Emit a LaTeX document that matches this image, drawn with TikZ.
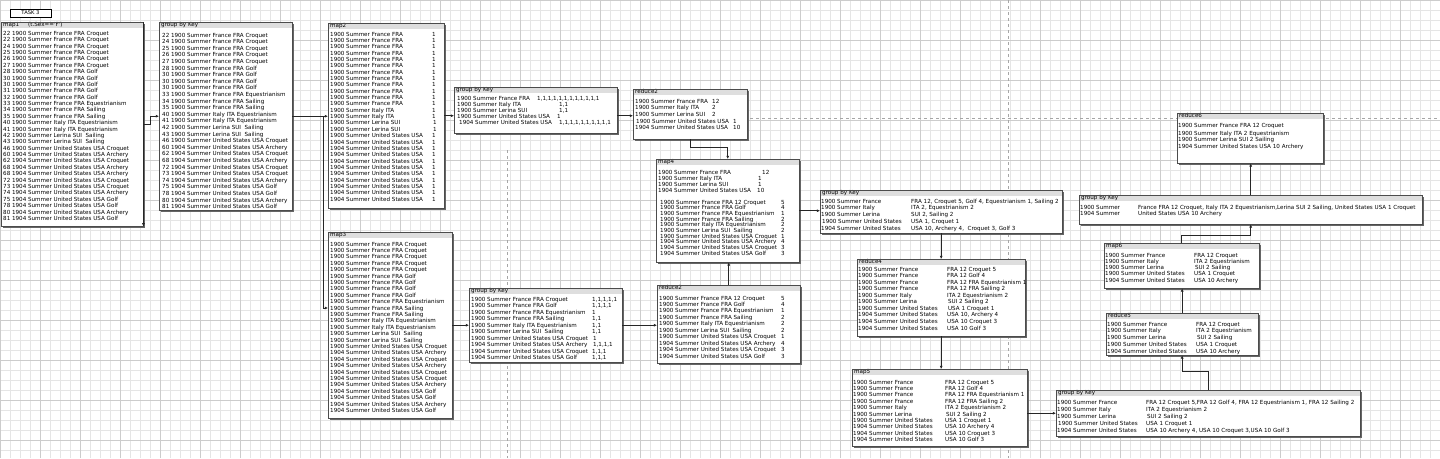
\documentclass[tikz,border=0pt]{standalone}
\usepackage{fontspec}
\newfontfamily\df{DejaVu Sans}
\usetikzlibrary{arrows.meta,shadows,calc}
\newlength\cw
\newcommand\setcw[1]{\global\cw=#1\relax}
\newcommand\Cl[3][\cw]{\makebox[#1][l]{#2}#3}
\newcommand\mrbox[6]{%
  \pgfmathsetmacro\boxw{#4-#2}\pgfmathsetmacro\boxh{#5-#3}\pgfmathsetmacro\hdrw{#4-#2-4}%
  \node[boxbg, minimum width=\boxw pt, minimum height=\boxh pt] (#1) at (#2,#3) {};
  \node[hdr, text width=\hdrw pt] (#1h) at (#1.north west) {#6};
  \draw[boxline] (#1.north west) rectangle (#1.south east);
}
\newcommand\mrbody[5]{\node[body, font={\df\fontsize{5.6}{#4}\selectfont\lineskiplimit=-5pt}] (#1t) at (#2,#3) {#5};}
\begin{document}
\begin{tikzpicture}[x=1pt,y=-1pt,
  boxbg/.style={fill=white, anchor=north west, inner sep=0pt, drop shadow={shadow xshift=1.3pt, shadow yshift=-1.3pt, fill=black!60, opacity=1}},
  boxline/.style={draw=black!70, line width=0.5pt},
  hdr/.style={anchor=north west, fill=black!13, inner xsep=2pt, inner ysep=0pt, text height=4.4pt, text depth=1.6pt, font=\df\fontsize{5.6}{6}\selectfont, align=left},
  body/.style={anchor=north west, inner sep=0pt, align=left},
  arr/.style={draw=black!85, line width=0.8pt, -{Latex[length=3.2pt,width=3pt]}},
  pgline/.style={draw=black!35, dashed, dash pattern=on 3pt off 3pt, line width=0.5pt}]
\useasboundingbox (0,0) rectangle (1440,458);
\fill[white] (0,0) rectangle (1440,458);
\draw[black!10, line width=0.3pt, xstep=10pt, ystep=10pt] (0,0) grid (1440,458);
\draw[black!20, line width=0.3pt, xstep=40pt, ystep=40pt] (0,0) grid (1440,458);
\draw[pgline] (720,118) -- (1440,118);
\draw[pgline] (1008,0) -- (1008,458);
\draw[pgline] (507,150) -- (507,458);

\node[draw=black, line width=0.8pt, fill=white, minimum width=41pt, minimum height=8pt, inner sep=0pt, font=\df\fontsize{5.2}{6}\selectfont] (task) at (30.5,13) {TASK 3};

% ---------- map1
\mrbox{map1}{1}{22}{143}{226}{map1\hspace{9pt}(t.Sex=='F')}
\mrbody{map1}{3}{31}{6.38}{%
22 1900 Summer France FRA Croquet\\
22 1900 Summer France FRA Croquet\\
24 1900 Summer France FRA Croquet\\
25 1900 Summer France FRA Croquet\\
26 1900 Summer France FRA Croquet\\
27 1900 Summer France FRA Croquet\\
28 1900 Summer France FRA Golf\\
30 1900 Summer France FRA Golf\\
30 1900 Summer France FRA Golf\\
31 1900 Summer France FRA Golf\\
32 1900 Summer France FRA Golf\\
33 1900 Summer France FRA Equestrianism\\
34 1900 Summer France FRA Sailing\\
35 1900 Summer France FRA Sailing\\
40 1900 Summer Italy ITA Equestrianism\\
41 1900 Summer Italy ITA Equestrianism\\
42 1900 Summer Lerina SUI\ \ Sailing\\
43 1900 Summer Lerina SUI\ \ Sailing\\
46 1900 Summer United States USA Croquet\\
60 1904 Summer United States USA Archery\\
62 1904 Summer United States USA Croquet\\
68 1904 Summer United States USA Archery\\
68 1904 Summer United States USA Archery\\
72 1904 Summer United States USA Croquet\\
73 1904 Summer United States USA Croquet\\
74 1904 Summer United States USA Archery\\
75 1904 Summer United States USA Golf\\
78 1904 Summer United States USA Golf\\
80 1904 Summer United States USA Archery\\
81 1904 Summer United States USA Golf}

% ---------- group by key 1
\mrbox{gbk1}{159}{22}{292}{210}{group by Key}
\mrbody{gbk1}{162}{32.7}{6.6}{%
22 1900 Summer France FRA Croquet\\
24 1900 Summer France FRA Croquet\\
25 1900 Summer France FRA Croquet\\
26 1900 Summer France FRA Croquet\\
27 1900 Summer France FRA Croquet\\
28 1900 Summer France FRA Golf\\
30 1900 Summer France FRA Golf\\
30 1900 Summer France FRA Golf\\
30 1900 Summer France FRA Golf\\
33 1900 Summer France FRA Equestrianism\\
34 1900 Summer France FRA Sailing\\
35 1900 Summer France FRA Sailing\\
40 1900 Summer Italy ITA Equestrianism\\
41 1900 Summer Italy ITA Equestrianism\\
42 1900 Summer Lerina SUI\ \ Sailing\\
43 1900 Summer Lerina SUI\ \ Sailing\\
46 1900 Summer United States USA Croquet\\
60 1904 Summer United States USA Archery\\
62 1904 Summer United States USA Croquet\\
68 1904 Summer United States USA Archery\\
72 1904 Summer United States USA Croquet\\
73 1904 Summer United States USA Croquet\\
74 1904 Summer United States USA Archery\\
75 1904 Summer United States USA Golf\\
78 1904 Summer United States USA Golf\\
80 1904 Summer United States USA Archery\\
81 1904 Summer United States USA Golf}

% ---------- map2
\mrbox{map2}{328}{23}{444}{208}{map2}
\mrbody{map2}{330}{31.7}{6.35}{\setcw{102pt}%
\Cl{1900 Summer France FRA}{1}\\
\Cl{1900 Summer France FRA}{1}\\
\Cl{1900 Summer France FRA}{1}\\
\Cl{1900 Summer France FRA}{1}\\
\Cl{1900 Summer France FRA}{1}\\
\Cl{1900 Summer France FRA}{1}\\
\Cl{1900 Summer France FRA}{1}\\
\Cl{1900 Summer France FRA}{1}\\
\Cl{1900 Summer France FRA}{1}\\
\Cl{1900 Summer France FRA}{1}\\
\Cl{1900 Summer France FRA}{1}\\
\Cl{1900 Summer France FRA}{1}\\
\Cl{1900 Summer Italy ITA}{1}\\
\Cl{1900 Summer Italy ITA}{1}\\
\Cl[103pt]{1900 Summer Lerina SUI}{1}\\
\Cl[103pt]{1900 Summer Lerina SUI}{1}\\
\Cl{1900 Summer United States USA}{1}\\
\Cl{1904 Summer United States USA}{1}\\
\Cl{1904 Summer United States USA}{1}\\
\Cl{1904 Summer United States USA}{1}\\
\Cl{1904 Summer United States USA}{1}\\
\Cl{1904 Summer United States USA}{1}\\
\Cl{1904 Summer United States USA}{1}\\
\Cl{1904 Summer United States USA}{1}\\
\Cl{1904 Summer United States USA}{1}\\
\Cl{1904 Summer United States USA}{1}\\
\Cl{1904 Summer United States USA}{1}}

% ---------- map3
\mrbox{map3}{328}{232}{452}{418}{map3}
\mrbody{map3}{330}{241.7}{6.4}{%
1900 Summer France FRA Croquet\\
1900 Summer France FRA Croquet\\
1900 Summer France FRA Croquet\\
1900 Summer France FRA Croquet\\
1900 Summer France FRA Croquet\\
1900 Summer France FRA Golf\\
1900 Summer France FRA Golf\\
1900 Summer France FRA Golf\\
1900 Summer France FRA Golf\\
1900 Summer France FRA Equestrianism\\
1900 Summer France FRA Sailing\\
1900 Summer France FRA Sailing\\
1900 Summer Italy ITA Equestrianism\\
1900 Summer Italy ITA Equestrianism\\
1900 Summer Lerina SUI\ \ Sailing\\
1900 Summer Lerina SUI\ \ Sailing\\
1900 Summer United States USA Croquet\\
1904 Summer United States USA Archery\\
1904 Summer United States USA Croquet\\
1904 Summer United States USA Archery\\
1904 Summer United States USA Croquet\\
1904 Summer United States USA Croquet\\
1904 Summer United States USA Archery\\
1904 Summer United States USA Golf\\
1904 Summer United States USA Golf\\
1904 Summer United States USA Archery\\
1904 Summer United States USA Golf}

% ---------- group by key 2
\mrbox{gbk2}{454}{87}{617}{133}{group by Key}
\mrbody{gbk2}{457}{95.7}{6.2}{\setcw{102pt}%
\Cl[80pt]{1900 Summer France FRA}{1,1,1,1,1,1,1,1,1,1,1,1}\\
\Cl{1900 Summer Italy ITA}{1,1}\\
\Cl{1900 Summer Lerina SUI}{1,1}\\
\Cl[100pt]{1900 Summer United States USA}{1}\\
\hspace*{2pt}\Cl[100pt]{1904 Summer United States USA}{1,1,1,1,1,1,1,1,1,1}}

% ---------- reduce2 (top)
\mrbox{r2a}{633}{89}{747}{139}{reduce2}
\mrbody{r2a}{635}{98.7}{6.7}{\setcw{77pt}%
\Cl{1900 Summer France FRA}{12}\\
\Cl{1900 Summer Italy ITA}{2}\\
\Cl{1900 Summer Lerina SUI}{2}\\
\hspace*{1pt}\Cl[97pt]{1900 Summer United States USA}{1}\\
\Cl[98pt]{1904 Summer United States USA}{10}}

% ---------- map4
\mrbox{map4}{656}{159}{799}{262}{map4}
\mrbody{map4}{658}{169.7}{5.7}{\setcw{121pt}%
\Cl[104pt]{1900 Summer France FRA}{12}\\[1.2pt]
\Cl[100pt]{1900 Summer Italy ITA}{1}\\
\Cl[100pt]{1900 Summer Lerina SUI}{1}\\
\Cl[99pt]{1904 Summer United States USA}{10}\\[6pt]
\hspace*{2pt}\Cl{1900 Summer France FRA 12 Croquet}{5}\\
\hspace*{2pt}\Cl{1900 Summer France FRA Golf}{4}\\
\hspace*{2pt}\Cl{1900 Summer France FRA Equestrianism}{1}\\
\hspace*{2pt}\Cl{1900 Summer France FRA Sailing}{2}\\
\hspace*{2pt}\Cl{1900 Summer Italy ITA Equestrianism}{2}\\
\hspace*{2pt}\Cl{1900 Summer Lerina SUI\ \ Sailing}{2}\\
\hspace*{2pt}\Cl{1900 Summer United States USA Croquet}{1}\\
\hspace*{2pt}\Cl{1904 Summer United States USA Archery}{4}\\
\hspace*{2pt}\Cl{1904 Summer United States USA Croquet}{3}\\
\hspace*{2pt}\Cl{1904 Summer United States USA Golf}{3}}

% ---------- group by key 3
\mrbox{gbk3}{469}{288}{622}{362}{group by Key}
\mrbody{gbk3}{471}{296.7}{6.5}{\setcw{121pt}%
\Cl{1900 Summer France FRA Croquet}{1,1,1,1,1}\\
\Cl{1900 Summer France FRA Golf}{1,1,1,1}\\
\Cl{1900 Summer France FRA Equestrianism}{1}\\
\Cl{1900 Summer France FRA Sailing}{1,1}\\
\Cl{1900 Summer Italy ITA Equestrianism}{1,1}\\
\Cl{1900 Summer Lerina SUI\ \ Sailing}{1,1}\\
\Cl{1900 Summer United States USA Croquet}{\,1}\\
\Cl{1904 Summer United States USA Archery}{\,1,1,1,1}\\
\Cl{1904 Summer United States USA Croquet}{1,1,1}\\
\Cl{1904 Summer United States USA Golf}{1,1,1}}

% ---------- reduce2 (bottom)
\mrbox{r2b}{657}{285}{800}{363}{reduce2}
\mrbody{r2b}{659}{295.7}{6.45}{\setcw{122pt}%
\Cl{1900 Summer France FRA 12 Croquet}{5}\\
\Cl{1900 Summer France FRA Golf}{4}\\
\Cl{1900 Summer France FRA Equestrianism}{1}\\
\Cl{1900 Summer France FRA Sailing}{2}\\
\Cl{1900 Summer Italy ITA Equestrianism}{2}\\
\Cl{1900 Summer Lerina SUI\ \ Sailing}{2}\\
\Cl{1900 Summer United States USA Croquet}{1}\\
\Cl{1904 Summer United States USA Archery}{4}\\
\Cl{1904 Summer United States USA Croquet}{3}\\
\Cl{1904 Summer United States USA Golf}{3}}

% ---------- group by key 4
\mrbox{gbk4}{820}{190}{1062}{233}{group by Key}
\mrbody{gbk4}{821}{198.7}{6.75}{\setcw{90pt}%
\Cl{1900 Summer France}{FRA 12, Croquet 5, Golf 4, Equestrianism 1, Sailing 2}\\
\Cl{1900 Summer Italy}{ITA 2, Equestrianism 2}\\
\Cl{1900 Summer Lerina}{SUI 2, Sailing 2}\\
\hspace*{1pt}\Cl[89pt]{1900 Summer United States}{USA 1, Croquet 1}\\
\Cl{1904 Summer United States}{USA 10, Archery 4,\ \ Croquet 3, Golf 3}}

% ---------- reduce4
\mrbox{reduce4}{857}{259}{1025}{336}{reduce4}
\mrbody{reduce4}{858}{266.7}{6.55}{\setcw{89pt}%
\Cl{1900 Summer France}{FRA 12 Croquet 5}\\
\Cl{1900 Summer France}{FRA 12 Golf 4}\\
\Cl{1900 Summer France}{FRA 12 FRA Equestrianism 1}\\
\Cl{1900 Summer France}{FRA 12 FRA Sailing 2}\\
\Cl{1900 Summer Italy}{ITA 2 Equestrianism 2}\\
\Cl{1900 Summer Lerina}{\,SUI 2 Sailing 2}\\
\Cl{1900 Summer United States}{\,USA 1 Croquet 1}\\
\Cl{1904 Summer United States}{USA 10, Archery 4}\\
\Cl{1904 Summer United States}{USA 10 Croquet 3}\\
\Cl{1904 Summer United States}{USA 10 Golf 3}}

% ---------- map5
\mrbox{map5}{852}{369}{1027}{446}{map5}
\mrbody{map5}{853}{379.7}{6.4}{\setcw{92pt}%
\Cl{1900 Summer France}{FRA 12 Croquet 5}\\
\Cl{1900 Summer France}{FRA 12 Golf 4}\\
\Cl{1900 Summer France}{FRA 12 FRA Equestrianism 1}\\
\Cl{1900 Summer France}{FRA 12 FRA Sailing 2}\\
\Cl{1900 Summer Italy}{ITA 2 Equestrianism 2}\\
\Cl{1900 Summer Lerina}{\,SUI 2 Sailing 2}\\
\Cl{1900 Summer United States}{USA 1 Croquet 1}\\
\Cl{1904 Summer United States}{USA 10 Archery 4}\\
\Cl{1904 Summer United States}{USA 10 Croquet 3}\\
\Cl{1904 Summer United States}{USA 10 Golf 3}}

% ---------- group by key 5
\mrbox{gbk5}{1056}{390}{1360}{436}{group by Key}
\mrbody{gbk5}{1057}{399.7}{7.2}{\setcw{89pt}%
\Cl{1900 Summer France}{FRA 12 Croquet 5,FRA 12 Golf 4, FRA 12 Equestrianism 1, FRA 12 Sailing 2}\\
\Cl{1900 Summer Italy}{ITA 2 Equestrianism 2}\\
\Cl{1900 Summer Lerina}{\,SUI 2 Sailing 2}\\
\hspace*{1pt}\Cl[88pt]{1900 Summer United States}{USA 1 Croquet 1}\\
\Cl{1904 Summer United States}{USA 10 Archery 4, USA 10 Croquet 3,USA 10 Golf 3}}

% ---------- reduce5
\mrbox{reduce5}{1106}{313}{1258}{355}{reduce5}
\mrbody{reduce5}{1107}{321.7}{6.75}{\setcw{89pt}%
\Cl{1900 Summer France}{FRA 12 Croquet}\\
\Cl{1900 Summer Italy}{ITA 2 Equestrianism}\\
\Cl{1900 Summer Lerina}{\,SUI 2 Sailing}\\
\Cl{1900 Summer United States}{USA 1 Croquet}\\
\Cl{1904 Summer United States}{USA 10 Archery}}

% ---------- map6
\mrbox{map6}{1104}{243}{1259}{288}{map6}
\mrbody{map6}{1105}{252.7}{6.25}{\setcw{89pt}%
\Cl{1900 Summer France}{FRA 12 Croquet}\\
\Cl{1900 Summer Italy}{ITA 2 Equestrianism}\\
\Cl{1900 Summer Lerina}{\,SUI 2 Sailing}\\
\Cl{1900 Summer United States}{USA 1 Croquet}\\
\Cl{1904 Summer United States}{USA 10 Archery}}

% ---------- group by key 6
\mrbox{gbk6}{1079}{195}{1422}{224}{group by Key}
\mrbody{gbk6}{1080}{204.7}{6.2}{\setcw{58pt}%
\Cl{1900 Summer}{France FRA 12 Croquet, Italy ITA 2 Equestrianism,Lerina SUI 2 Sailing, United States USA 1 Croquet}\\
\Cl{1904 Summer}{United States USA 10 Archery}}

% ---------- reduce6
\mrbox{reduce6}{1177}{113}{1323}{163}{reduce6}
\mrbody{reduce6}{1178}{122.7}{6.5}{%
1900 Summer France FRA 12 Croquet\\[1.5pt]
1900 Summer Italy ITA 2 Equestrianism\\
1900 Summer Lerina SUI 2 Sailing\\
1904 Summer United States USA 10 Archery}

% ---------- connectors
\draw[arr] (map1.north east) -- (map1.south east);
\draw[arr] (map1.east) -- ++(7,0) |- (gbk1.west);
\draw[arr] (gbk1.east) -- (gbk1.east -| map2.west);
\coordinate (m3in) at ($(map3.north west)+(0,76)$);
\draw[arr] (gbk1.east) -- ++(31,0) |- (m3in);
\draw[arr] (map2.east) -- (map2.east -| gbk2.west);
\draw[arr] (gbk2.east |- map2.east) -- (map2.east -| r2a.west);
\draw[arr] (r2a.south) -- ++(0,8) -| (map4.north);
\draw[arr] (map4.east) -- (map4.east -| gbk4.west);
\draw[arr] (r2b.north) -- (r2b.north |- map4.south);
\draw[arr] (map3.east) -- (map3.east -| gbk3.west);
\draw[arr] (gbk3.east) -- (gbk3.east -| r2b.west);
\draw[arr] (gbk4.south) -- (gbk4.south |- reduce4.north);
\draw[arr] (reduce4.south) -- (reduce4.south |- map5.north);
\draw[arr] (gbk5.west -| map5.east) -- (gbk5.west);
\draw[arr] (gbk5.north) -- ++(0,-19) -| (reduce5.south);
\draw[arr] (reduce5.north) -- (reduce5.north |- map6.south);
\draw[arr] (map6.north) -- ++(0,-8) -| (gbk6.south);
\draw[arr] (gbk6.north) -- (gbk6.north |- reduce6.south);
\end{tikzpicture}
\end{document}
